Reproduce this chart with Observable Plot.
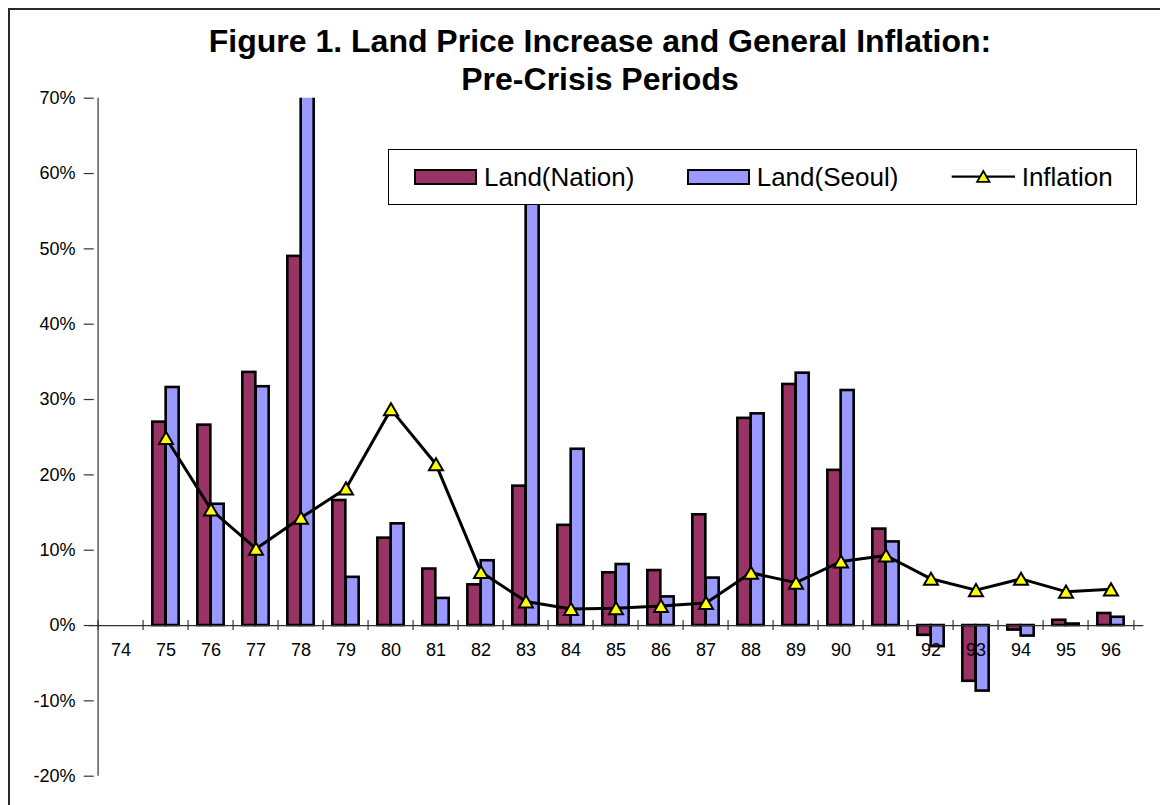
<!DOCTYPE html>
<html>
<head>
<meta charset="utf-8">
<script src="https://cdn.jsdelivr.net/npm/d3@7"></script>
<script src="https://cdn.jsdelivr.net/npm/@observablehq/plot@0.6"></script>
<style>
  body { margin: 0; background: #fff; overflow: hidden; font-family: "Liberation Sans", Arial, sans-serif; }
  #wrap { position: relative; width: 1160px; height: 805px; overflow: hidden; background: #fff; }
  #chart { position: absolute; left: 0; top: 0; }
  #title { position: absolute; left: 0; top: 23.4px; width: 1200px; text-align: center;
           font-weight: bold; font-size: 32px; line-height: 37.7px; color: #000; }
  #legend { position: absolute; left: 388px; top: 149px; width: 749px; height: 56px; box-sizing: border-box;
            border: 1px solid #000; background: #fff; }
  #legend .sw { position: absolute; top: 19px; width: 62.4px; height: 16px; box-sizing: border-box; border: 2.6px solid #000; }
  #legend .tx { position: absolute; top: 13.7px; font-size: 26px; line-height: 26px; color: #000; white-space: nowrap; }
  #legend svg { position: absolute; left: 560px; top: 16px; }
  #border { position: absolute; left: 7.5px; top: 7.5px; width: 3000px; height: 3000px;
            border-left: 2px solid #2a2a2a; border-top: 2px solid #2a2a2a; pointer-events: none; }
</style>
</head>
<body>
<div id="wrap">
  <div id="chart"></div>
  <div id="title">Figure 1. Land Price Increase and General Inflation:<br>Pre-Crisis Periods</div>
  <div id="legend"></div>
  <div id="border"></div>
</div>
<script>
// ---- data (percent) ----
const years = ["74","75","76","77","78","79","80","81","82","83","84","85","86","87","88","89","90","91","92","93","94","95","96"];
const landNation = [null, 27.0, 26.6, 33.6, 49.0, 16.6, 11.6, 7.5, 5.4, 18.5, 13.3, 7.0, 7.3, 14.7, 27.5, 32.0, 20.6, 12.8, -1.3, -7.4, -0.6, 0.7, 1.6];
const landSeoul  = [null, 31.6, 16.1, 31.7, 135.7, 6.4, 13.5, 3.6, 8.6, 60.0, 23.4, 8.1, 3.8, 6.3, 28.1, 33.5, 31.2, 11.1, -2.8, -8.7, -1.4, 0.2, 1.1];
const inflation  = [null, 24.9, 15.4, 10.2, 14.3, 18.2, 28.7, 21.4, 7.1, 3.2, 2.2, 2.3, 2.6, 3.0, 7.0, 5.7, 8.5, 9.3, 6.2, 4.7, 6.2, 4.5, 4.8];
const yTicks = [-20, -10, 0, 10, 20, 30, 40, 50, 60, 70];
const seriesNames = ["Land(Nation)", "Land(Seoul)", "Inflation"];

// ---- colours / layout ----
const colNation = "#993366", colSeoul = "#9999ff", colMarker = "#ffff00";
const W = 1160, H = 805, ML = 88.7, MR = 16.7, MT = 97.7, MB = 29.3;
const PW = W - ML - MR;
const STEP = PW / years.length;
const BW = 13.33;
const PIN = 1 - BW / STEP;
const TICKY = 5 * 90 / (H - MT - MB); // 5px in data units

const rows = years.map((year, i) => ({year, nation: landNation[i], seoul: landSeoul[i], infl: inflation[i]}));
const nationRows = rows.filter(d => d.nation != null);
const seoulRows = rows.filter(d => d.seoul != null);
const inflRows = rows.filter(d => d.infl != null);

const chart = Plot.plot({
  width: W, height: H,
  marginLeft: ML, marginRight: MR, marginTop: MT, marginBottom: MB,
  style: {background: "transparent", fontFamily: "'Liberation Sans', Arial, sans-serif", fontSize: "18px", color: "#000"},
  x: {type: "band", domain: years, paddingInner: PIN, paddingOuter: PIN / 2, axis: null},
  y: {domain: [-20, 70], axis: null},
  marks: [
    Plot.barY(nationRows, {x: "year", y: "nation", fill: colNation, stroke: "#000", strokeWidth: 2.6, dx: -BW / 2, clip: true}),
    Plot.barY(seoulRows, {x: "year", y: "seoul", fill: colSeoul, stroke: "#000", strokeWidth: 2.6, dx: BW / 2, clip: true}),
    // y axis line
    Plot.ruleX([years[0]], {x: d => d, dx: -STEP / 2, stroke: "#333", strokeWidth: 1.2}),
    // zero line (category axis)
    Plot.ruleY([0], {stroke: "#333", strokeWidth: 1.2}),
    // category boundary ticks
    Plot.ruleX(years, {x: d => d, y1: -TICKY, y2: TICKY, dx: -STEP / 2, stroke: "#333", strokeWidth: 1.2}),
    Plot.ruleX([years[years.length - 1]], {x: d => d, y1: -TICKY, y2: TICKY, dx: STEP / 2, stroke: "#333", strokeWidth: 1.2}),
    // y ticks crossing the axis
    Plot.ruleY(yTicks, {y: d => d, insetLeft: -5, insetRight: PW - 5, stroke: "#333", strokeWidth: 1.2}),
    Plot.axisY(yTicks, {tickSize: 0, tickPadding: 13.7, tickFormat: d => `${d}%`, label: null, fontSize: 18, fill: "#000"}),
    // category labels
    Plot.text(years, {x: d => d, y: () => 0, dy: 25, fontSize: 18, fill: "#000"}),
    // inflation
    Plot.line(inflRows, {x: "year", y: "infl", stroke: "#000", strokeWidth: 3}),
    Plot.dot(inflRows, {x: "year", y: "infl", symbol: "triangle", r: 5.2, dy: 2, fill: colMarker, stroke: "#000", strokeWidth: 2})
  ]
});
document.getElementById("chart").appendChild(chart);

// ---- legend ----
const legend = d3.select("#legend");
legend.append("span").attr("class", "sw").style("left", "25.3px").style("background", colNation);
legend.append("span").attr("class", "tx").style("left", "95px").text(seriesNames[0]);
legend.append("span").attr("class", "sw").style("left", "298.3px").style("background", colSeoul);
legend.append("span").attr("class", "tx").style("left", "367.7px").text(seriesNames[1]);
const lsvg = legend.append("svg").attr("width", 70).attr("height", 22);
lsvg.append("line").attr("x1", 2.7).attr("x2", 66).attr("y1", 10.7).attr("y2", 10.7).attr("stroke", "#000").attr("stroke-width", 2.2);
lsvg.append("path").attr("d", d3.symbol(d3.symbolTriangle, Math.PI * 4.6 * 4.6)())
  .attr("transform", "translate(34.3,12.2)").attr("fill", colMarker).attr("stroke", "#000").attr("stroke-width", 1.8);
legend.append("span").attr("class", "tx").style("left", "632.7px").text(seriesNames[2]);
</script>
</body>
</html>
